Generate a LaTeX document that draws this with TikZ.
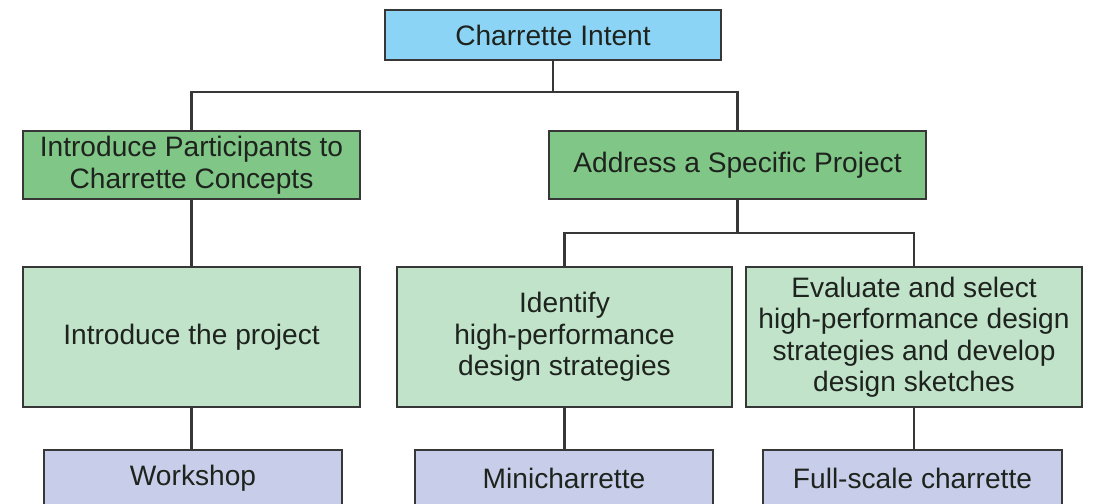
\documentclass[tikz,border=0pt]{standalone}
\usepackage{fontspec}
\setmainfont{Liberation Sans}
\usetikzlibrary{positioning}
\definecolor{sky}{RGB}{140,212,245}
\definecolor{moss}{RGB}{128,198,134}
\definecolor{mint}{RGB}{192,227,202}
\definecolor{lilac}{RGB}{200,205,233}
\definecolor{frame}{RGB}{55,55,55}
\definecolor{ink}{RGB}{30,35,30}
\tikzset{
  card/.style={draw=frame,fill=#1,line width=1.4pt,text=ink,align=center,
    font=\fontsize{20}{22.4}\selectfont,inner sep=0pt},
  card/.default=mint,
  link/.style={draw=frame,line width=1.8pt},
}

\begin{document}
\begin{tikzpicture}[x=0.025cm,y=-0.025cm]
    \clip (0,0) rectangle (1094,504);
    \fill[white] (0,0) rectangle (1094,504);
    % top
    \node[card=sky,minimum width=8.4cm,minimum height=1.25cm] (intent) at (553,35) {Charrette Intent};
    % intents
    \node[card=moss,minimum width=8.425cm,minimum height=1.7cm] (concepts) at (191.5,165) {Introduce Participants to\\Charrette Concepts};
    \node[card=moss,minimum width=9.425cm,minimum height=1.7cm] (project) at (737.5,165) {Address a Specific Project};
    % goals
    \node[card,minimum width=8.425cm,minimum height=3.5cm] (intro) at (191.5,337) {Introduce the project};
    \node[card,minimum width=8.375cm,minimum height=3.5cm] (identify) at (564.5,337) {Identify\\high-performance\\design strategies};
    \node[card,minimum width=8.4cm,minimum height=3.5cm] (evaluate) at (914,337) {Evaluate and select\\high-performance design\\strategies and develop\\design sketches};
    % formats
    \node[card=lilac,minimum width=7.45cm,minimum height=1.4cm] (workshop) at (193,478) {Workshop};
    \node[card=lilac,minimum width=7.45cm,minimum height=1.4cm] (mini) at (564,478) {Minicharrette};
    \node[card=lilac,minimum width=7.475cm,minimum height=1.4cm] (full) at (912.5,478) {Full-scale charrette};
    % connectors
    \coordinate (busA) at (553,92);
    \coordinate (busB) at (737.5,233);
    \draw[link] (intent) -- (busA);
    \draw[link] (concepts.north) |- (busA) -| (project.north);
    \draw[link] (concepts) -- (intro);
    \draw[link] (project) -- (busB);
    \draw[link] (identify.north) |- (busB) -| (evaluate.north);
    \draw[link] (intro.south) -- (intro.south |- workshop.north);
    \draw[link] (identify.south) -- (identify.south |- mini.north);
    \draw[link] (evaluate.south) -- (evaluate.south |- full.north);
\end{tikzpicture}
\end{document}
